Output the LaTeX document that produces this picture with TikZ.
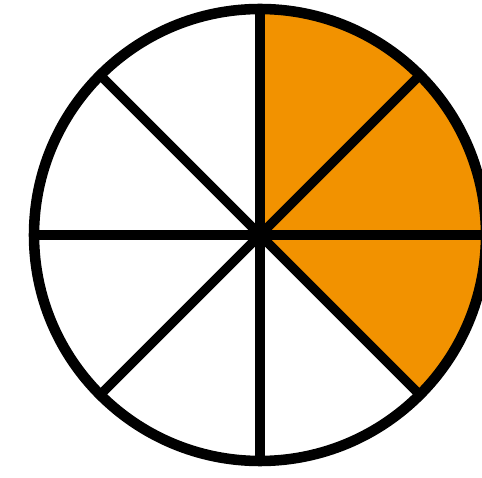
\documentclass[tikz,border=0pt]{standalone}
\usepackage{xcolor}
\definecolor{slice}{RGB}{242,146,0}

\begin{document}
\begin{tikzpicture}[x=0.03cm, y=0.03cm,
    rim/.style={draw=black, line width=9pt},
    spoke/.style={draw=black, line width=8pt},
    part/.style={fill=slice},
]

% Rahmen
\useasboundingbox (0,0) rectangle (482,477);
\clip (0,0) rectangle (482,477);
\coordinate (c) at (260,242);

% Gefaerbte Teile
\foreach \a in {90,45,0}
  \fill[part] (c) -- ++(\a:226) arc[start angle=\a, end angle=\a-45, radius=226] -- cycle;

% Speichen
\foreach \a in {0,45,...,315}
  \draw[spoke] (c) -- ++(\a:226);

% Kreis
\draw[rim] (c) circle[radius=226];

\end{tikzpicture}
\end{document}
